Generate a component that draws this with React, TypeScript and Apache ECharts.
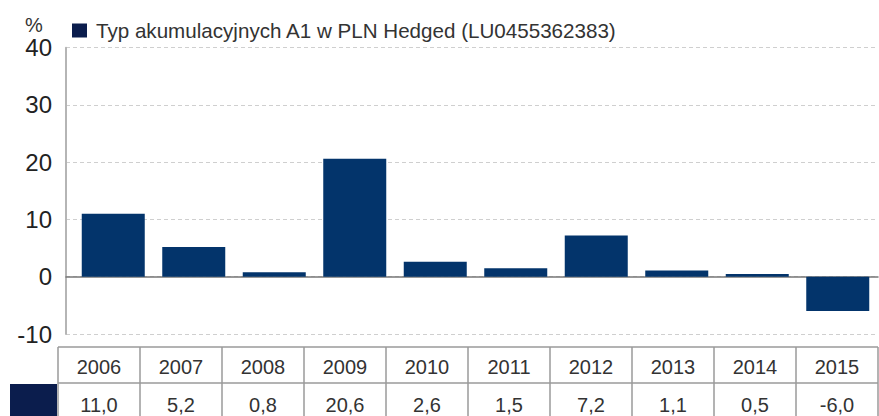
import React, { useEffect, useRef } from "react";
import * as echarts from "echarts";

const years = ["2006", "2007", "2008", "2009", "2010", "2011", "2012", "2013", "2014", "2015"];
const values = [11.0, 5.2, 0.8, 20.6, 2.6, 1.5, 7.2, 1.1, 0.5, -6.0];
const seriesName = "Typ akumulacyjnych A1 w PLN Hedged (LU0455362383)";
const unitLabel = "%";
const yMin = -10;
const yMax = 40;
const yStep = 10;

const BAR = "#03346b";
const KEY = "#0b1d4d";
const FONT = "'Liberation Sans', Arial, sans-serif";

export default function App() {
  const ref = useRef<HTMLDivElement>(null);
  useEffect(() => {
    if (!ref.current) return;
    const chart = echarts.init(ref.current, undefined, { renderer: "svg" });

    const tableLeft = 58;
    const colW = 82;
    const rowTop = 347;
    const rowMid = 383;
    const tableBottom = 420;
    const lineStyle = { stroke: "#9a9a9a", lineWidth: 1.5 };
    const graphics: any[] = [];
    graphics.push({
      type: "text",
      x: 25,
      y: 25,
      style: { text: unitLabel, font: `20px ${FONT}`, fill: "#333", verticalAlign: "middle" },
    });
    graphics.push({
      type: "line",
      shape: { x1: tableLeft, y1: rowTop, x2: tableLeft + colW * years.length, y2: rowTop },
      style: lineStyle,
    });
    graphics.push({
      type: "line",
      shape: { x1: tableLeft, y1: rowMid, x2: tableLeft + colW * years.length, y2: rowMid },
      style: lineStyle,
    });
    for (let i = 0; i <= years.length; i++) {
      const x = tableLeft + i * colW;
      graphics.push({
        type: "line",
        shape: { x1: x, y1: rowTop, x2: x, y2: tableBottom },
        style: lineStyle,
      });
    }
    graphics.push({
      type: "rect",
      shape: { x: 10, y: rowMid + 1, width: 47, height: 40 },
      style: { fill: KEY },
    });
    years.forEach((y, i) => {
      const cx = tableLeft + i * colW + colW / 2;
      graphics.push({
        type: "text",
        x: cx,
        y: (rowTop + rowMid) / 2 + 2,
        style: {
          text: y,
          font: `20px ${FONT}`,
          fill: "#333",
          align: "center",
          verticalAlign: "middle",
        },
      });
      graphics.push({
        type: "text",
        x: cx,
        y: rowMid + 22,
        style: {
          text: values[i].toFixed(1).replace(".", ","),
          font: `20px ${FONT}`,
          fill: "#333",
          align: "center",
          verticalAlign: "middle",
        },
      });
    });

    chart.setOption({
      animation: false,
      textStyle: { fontFamily: FONT },
      legend: {
        left: 67,
        top: 15,
        itemWidth: 15,
        itemHeight: 14,
        itemGap: 10,
        icon: "rect",
        data: [{ name: seriesName, itemStyle: { color: KEY } }],
        textStyle: { fontSize: 20.6, color: "#333", fontFamily: FONT, padding: [0, 0, 0, 4] },
      },
      grid: { left: 66, right: 1, top: 47.7, bottom: 82, containLabel: false },
      xAxis: {
        type: "value",
        min: -0.587,
        max: 9.5,
        axisLabel: { show: false },
        axisTick: { show: false },
        splitLine: { show: false },
        axisLine: { show: true, onZero: true, lineStyle: { color: "#777", width: 1.5 } },
      },
      yAxis: {
        type: "value",
        min: yMin,
        max: yMax,
        interval: yStep,
        axisLine: { show: true, onZero: false, lineStyle: { color: "#b5b5b5", width: 2 } },
        axisTick: { show: false },
        axisLabel: { fontSize: 24, color: "#222", margin: 14, fontFamily: FONT },
        splitLine: { show: true, lineStyle: { color: "#cfcfcf", type: [4, 3], width: 1 } },
      },
      series: [
        {
          name: seriesName,
          type: "bar",
          barWidth: 63,
          itemStyle: { color: BAR },
          data: values.map((v, i) => [i, v]),
        },
      ],
      graphic: graphics,
    });
    return () => chart.dispose();
  }, []);
  return (
    <div
      ref={ref}
      style={{ position: "absolute", left: 0, top: 0, width: 879, height: 416 }}
    />
  );
}
